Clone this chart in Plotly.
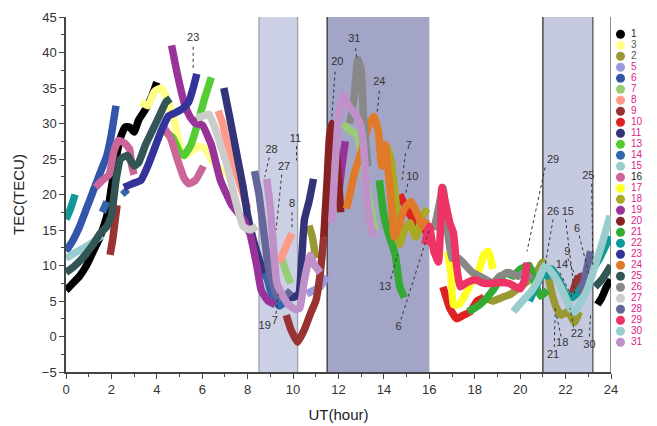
import plotly.graph_objects as go

N = None
# ---- series data (UT hour, TEC) ----
names = ["1","3","2","5","6","7","8","9","10","11","13","14","15","16","17",
         "18","19","20","21","22","23","24","25","26","27","28","29","30","31"]
colors = ["#000000","#ffff88","#999933","#9999dd","#3355aa","#99cc77","#ff9988",
          "#993333","#dd2222","#333377","#55cc33","#3366aa","#99cccc","#cc6699",
          "#ffff22","#aaaa22","#993399","#882222","#33aa33","#119999","#333399",
          "#e07a28","#335555","#888888","#cccccc","#666699","#ee3366","#99cccc","#c090c8"]

xs = {
 "1": [0,0.3,0.6,0.9,1.2,1.5,1.8,2.0,2.2,2.4,2.6,2.8,3.0,3.2,3.5,3.8,4.0,N,23.4,23.6,23.8,24.0],
 "3": [3.3,3.6,3.9,4.2,4.5,4.8,5.0,5.2,5.5,5.8,6.1,6.4,6.8,7.1],
 "2": [10.7,10.85,11.0,N,18.4,18.8,19.2,19.6,20.0,20.4,20.8,21.0,21.2,21.4,21.6,21.8,22.1,22.4,22.6],
 "5": [10.6,10.9,11.2,11.5],
 "6": [0,0.3,0.6,0.9,1.2,1.5,1.8,2.0,2.2],
 "7": [9.5,9.7,9.9,N,12.2,12.5,12.8,13.0,13.3,13.6],
 "8": [6.7,6.9,7.1,7.4,7.7,8.0,N,9.4,9.6,9.8,9.95],
 "9": [1.94,2.05,2.15,2.25,N,9.7,9.9,10.2,10.5,10.8,11.0,11.2,11.35,N,22.3,22.5,22.7,22.9],
 "10": [14.7,15.0,15.4,15.8,16.1,N,16.6,16.9,17.2,17.5,17.8,18.1,18.4],
 "11": [6.95,7.2,7.5,7.8,8.0,8.3,8.6,8.9,9.2,9.6,10.0,10.25,10.4,10.5,10.7,10.9],
 "13": [4.3,4.7,5.0,5.2,5.5,5.8,6.1,6.4],
 "14": [1.6,1.8,N,2.5,2.7,N,8.8,9.0,9.2,9.4,9.6],
 "15": [0,0.4,0.8,1.2,1.6],
 "16": [1.3,1.6,1.9,2.1,2.3,2.6,2.8,2.9,3.0,N,4.3,4.6,4.9,5.2,5.4,5.7,6.05],
 "17": [16.8,16.95,17.06,17.3,17.6,17.9,18.2,18.4,18.6,18.8],
 "18": [14.1,14.3,14.4,14.6,14.7,14.9,15.15,15.4,15.7,15.9],
 "19": [4.65,4.9,5.2,5.45,5.7,6.0,6.4,6.8,7.3,7.8,8.1,8.4,8.6,8.9,9.2,N,12.0,12.15,12.3],
 "20": [11.35,11.5,11.6,11.7,11.85,12.0,12.1],
 "21": [13.8,14.0,14.2,14.5,14.7,14.9,N,17.7,18.0,18.4,18.8,19.1,19.4,19.7,20.0,20.4,20.6,20.9,21.2],
 "22": [0,0.2,0.4,N,20.4,20.7,21.0,21.2,21.4,21.7,22.0,22.3,22.6,22.9,23.2,23.5,23.8,24.0],
 "23": [2.55,2.9,3.3,3.6,3.9,4.2,4.5,4.8,5.1,5.4,5.6,5.76],
 "24": [12.35,12.5,12.7,12.9,13.1,13.3,13.55,13.75,13.9,14.05,14.2,14.35,14.45,14.7,14.9,15.2,15.5,15.7,15.9],
 "25": [0,0.4,0.8,1.2,1.5,1.8,2.0,2.2,2.4,2.7,3.0,3.2,3.5,3.8,4.1,4.4,4.6,N,23.3,23.6,24.0],
 "26": [12.5,12.7,12.85,13.0,13.1,13.2,13.3,N,16.2,16.4,16.6,16.8,17.0,17.3,17.6,17.9,18.2,18.5,18.8,19.1,19.5,19.9,20.2,20.5],
 "27": [5.75,6.0,6.3,6.6,6.9,7.1,7.4,7.8,8.1,8.4],
 "28": [8.3,8.5,8.7,8.9,9.1,9.3,9.6,9.9,N,22.7,22.9,23.1],
 "29": [15.8,16.0,16.2,16.4,16.5,16.55,16.7,16.9,17.06,17.2,17.36,17.6,18.0,18.4,18.8,19.1,19.5,20.0,20.2,20.3],
 "30": [19.7,20.1,20.45,20.8,21.1,21.4,21.7,22.0,22.2,22.4,22.7,23.0,23.3,23.6,23.96],
 "31": [8.84,9.0,9.15,9.28,9.5,9.8,10.1,10.3,10.5,10.75,10.95,11.2,N,11.7,11.85,12.0,12.2,12.45,12.7,12.95,13.1,13.25,13.4,13.55],
}
ys = {
 "1": [6.5,7.5,8.5,10,12,14,17,21,25,28,29.5,29.5,28.8,30.5,32,34,35.8,N,4.5,5.5,7,8],
 "3": [33,32.5,34.5,35,33,30,27,25.5,26,26.8,26.5,25,23.5,22.8],
 "2": [15.6,14,11,N,5.5,5,5.5,6,7,8,9.5,10.5,9,6,4,3,3.5,2,3.5],
 "5": [6,6.5,7,8.5],
 "6": [12,13.5,15.5,18,20.5,23,25.5,28.5,32.5],
 "7": [11,9,7.5,N,30,29,28.5,26,20,15],
 "8": [31.8,30,27,24,21,18,N,10.5,12,13.5,14.5],
 "9": [11.5,13.5,16,18.5,N,3,1,-0.8,1,3.5,5,9,14,N,6,8,8.5,7],
 "10": [20,18,16,15,13,N,7,4,2.5,3,3.5,5,5.5],
 "11": [35,31,26,21,17,13,10,8,6.5,5.5,5.5,6,12,16.5,19,22.2],
 "13": [29,28,26,25.5,27,30,33.5,36.5],
 "14": [17.5,19,N,20.7,20,N,9,6.5,5,4.3,4.8],
 "15": [11,11.8,12.5,13.3,14.3],
 "16": [21,22,22.8,26,27.6,27.2,26.4,24,22.8,N,29.5,28,25,22.3,21.5,22,24],
 "17": [12,9,4.5,4.5,6,8,9.5,11.5,12,9.5],
 "18": [27,25,22.6,17,13,15,16,14,17,18],
 "19": [41,37,33,31,30,29.8,27,22,18.5,16.5,14.5,10,6.5,5,4.5,N,20,24,27.5],
 "20": [14,22,28,30,28,22,17.5],
 "21": [22,17,14.5,11.5,7,5.5,N,3.5,4,5,6.5,8,9,8.5,9.5,10,8,5.7,6.5],
 "22": [16.5,18,20,N,5,7,9,8.5,9.5,8,6,5.5,6.5,8,9.5,11,13,14],
 "23": [21,21.5,22,24,26.5,29,31,31.5,32,33,35,37],
 "24": [18,20,23,25,27,29.5,31,29,24,27,23,18,14,16,18,19,17,15.5,16.5],
 "25": [9,10,11.3,13,14.5,15.5,17,22,25,25.5,24,24.5,27,29,31,33,33.5,N,7,8,10],
 "26": [30,34,39,37.5,31,27,24,N,15,18,21,15,11,11,10,9,8.5,8,7.5,8.5,9,8.5,9,8],
 "27": [30.8,31,31.3,29,26,24,20,15.5,15,15.5],
 "28": [23.3,20,15,10,7.5,5.7,5.5,6.5,N,6,9,12],
 "29": [13,15.5,12,10.5,16,21,19,16,14.6,10,7,7.5,8,7.5,7.5,7.6,7.5,6.7,8,10.4],
 "30": [3.5,5,6.2,8,10,9,7.5,5.5,4,3.4,5,7,10,13,17],
 "31": [22.2,18,12,7.6,6,4.5,3.8,4,8,11.4,10,9,N,16,24,31,34,32.5,31.5,30,27,19.5,16,14],
}

legend_text_colors = ["#222222","#555555","#555555"] + ["#e0218a"]*10 + ["#222222"] + ["#e0218a"]*15

# ---- label annotations on the curves ----
lab_text = ["23","28","11","27","8","19","7","20","31","24","7","10","13","6",
            "29","25","26","15","6","9","14","21","18","22","30"]
lab_x = [5.6,9.05,10.1,9.6,9.95,8.75,9.2,11.95,12.7,13.8,15.1,15.25,14.05,14.65,
         21.45,23.0,21.45,22.1,22.5,22.08,21.84,21.45,21.85,22.5,23.05]
lab_y = [42,26.2,27.8,23.8,18.6,1.5,2.2,38.6,41.8,35.8,26.8,22.4,6.9,1.3,
         24.8,22.6,17.5,17.5,15.1,11.8,10,-2.6,-0.9,0.3,-1.2]
lead_x0 = [5.6,8.95,10.15,9.5,9.95,N,9.25,11.85,12.75,13.8,14.95,15.05,14.3,14.75,
           21.1,23.15,21.45,22.0,22.6,22.1,21.75,21.5,21.8,22.35,23.05]
lead_y0 = [40.8,25.2,26.8,22.8,17.5,N,3.2,37.3,40.6,34.6,25.8,21.5,8.1,2.4,
           23.8,21.5,16.5,16.5,14.2,11,9,-1.5,0,1.3,0]
lead_x1 = [5.6,8.75,10.15,9.25,9.95,N,9.35,11.7,12.8,13.7,14.8,14.95,14.6,16.0,
           20.3,23.2,21.1,22.4,23.05,22.5,22.3,21.55,21.6,22.2,23.1]
lead_y1 = [37.8,22.5,24.8,15,15.2,N,6,30.5,39.3,31.5,22,20,11.5,15,
           12,10,10,6,8.5,8,5.5,4,3,4,3]

# shaded intervals (UT hour)
band_x0 = [8.5, 11.5, 21.0]
band_x1 = [10.2, 16.0, 23.2]
band_fill = ["#ccd0e4", "#a2a5c6", "#c6cae0"]

fig = go.Figure()

for x0, x1, fc in zip(band_x0, band_x1, band_fill):
    fig.add_shape(type="rect", xref="x", yref="y", x0=x0, x1=x1, y0=-5, y1=45,
                  fillcolor=fc, line=dict(width=0), layer="below")
for xv, lc in [(8.5, "#a0a0b0"), (10.2, "#a0a0b0"), (11.5, "#333333"),
               (21.0, "#333333"), (23.2, "#555555"), (24.0, "#555555")]:
    fig.add_shape(type="line", xref="x", yref="y", x0=xv, x1=xv, y0=-5, y1=45,
                  line=dict(color=lc, width=1.3), layer="below")

for nm, c in zip(names, colors):
    fig.add_trace(go.Scatter(x=xs[nm], y=ys[nm], mode="lines", name=nm,
                             line=dict(color=c, width=7.5, shape="spline", smoothing=0.4),
                             connectgaps=False, showlegend=False, hoverinfo="skip"))

# leader lines
lx, ly = [], []
for a, b, c, d in zip(lead_x0, lead_y0, lead_x1, lead_y1):
    lx += [a, c, None]
    ly += [b, d, None]
fig.add_trace(go.Scatter(x=lx, y=ly, mode="lines", showlegend=False, hoverinfo="skip",
                         line=dict(color="#333333", width=1, dash="dot")))
fig.add_trace(go.Scatter(x=lab_x, y=lab_y, mode="text", text=lab_text, showlegend=False,
                         hoverinfo="skip",
                         textfont=dict(family="Liberation Sans, Arial", size=11, color="#333333")))

# manual legend on auxiliary axes
idx = [-i for i in range(len(names))]
fig.add_trace(go.Scatter(x=[6.5]*len(names), y=idx, mode="markers", xaxis="x2", yaxis="y2",
                         marker=dict(color=colors, size=9), showlegend=False, hoverinfo="skip"))
fig.add_trace(go.Scatter(x=[17]*len(names), y=idx, mode="text", text=names, xaxis="x2", yaxis="y2",
                         textposition="middle right",
                         textfont=dict(family="Liberation Sans, Arial", size=10, color=legend_text_colors),
                         showlegend=False, hoverinfo="skip"))

axis_font = dict(family="Liberation Sans, Arial", size=13, color="#333333")
fig.update_layout(
    width=649, height=418, margin=dict(l=58, r=5, t=9, b=54, autoexpand=False),
    paper_bgcolor="white", plot_bgcolor="white",
    xaxis=dict(domain=[0, 0.93003], range=[0, 24], dtick=2, tick0=0, showgrid=False, zeroline=False,
               automargin=False,
               showline=True, linecolor="#444444", linewidth=1.5, ticks="outside", ticklen=5,
               tickcolor="#444444", tickfont=axis_font,
               minor=dict(dtick=1, ticks="outside", ticklen=3, tickcolor="#444444"),
               title=dict(text="UT(hour)", font=dict(family="Liberation Sans, Arial", size=15, color="#222222"),
                          standoff=13)),
    yaxis=dict(range=[-5, 45], dtick=5, tick0=0, showgrid=False, zeroline=False,
               automargin=False,
               showline=True, linecolor="#444444", linewidth=1.5, ticks="outside", ticklen=5,
               tickcolor="#444444", tickfont=axis_font,
               minor=dict(dtick=2.5, ticks="outside", ticklen=3, tickcolor="#444444"),
               title=dict(text="TEC(TECU)", font=dict(family="Liberation Sans, Arial", size=15, color="#222222"),
                          standoff=14)),
    xaxis2=dict(domain=[0.93515, 1], range=[0, 38], visible=False, fixedrange=True),
    yaxis2=dict(range=[-30.7, 1.573], visible=False, anchor="x2", fixedrange=True),
)

fig.write_html("out.html")
